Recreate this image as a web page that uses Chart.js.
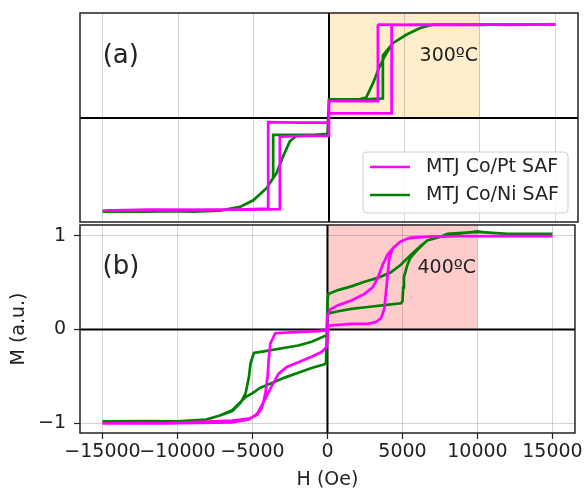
<!DOCTYPE html>
<html>
<head>
<meta charset="utf-8">
<script src="https://cdn.jsdelivr.net/npm/chart.js@4.4.0/dist/chart.umd.min.js"></script>
<style>
  html, body { margin: 0; padding: 0; background: #fff; }
  #wrap { position: relative; width: 585px; height: 490px; }
  #wrap canvas { position: absolute; left: 0; top: 0; }
</style>
</head>
<body>
<div id="wrap">
  <canvas id="chartA" width="585" height="490"></canvas>
  <canvas id="chartB" width="585" height="490"></canvas>
</div>
<script>
// Achsen / Beschriftungen
const hTicks = [-15000, -10000, -5000, 0, 5000, 10000, 15000];
const mTicks = [-1, 0, 1];
const seriesLabels = ['MTJ Co/Pt SAF', 'MTJ Co/Ni SAF'];
const seriesColors = ['#ff00ff', '#008000'];
const panelLabels = ['(a)', '(b)'];
const panelTemps = ['300ºC', '400ºC'];
const shadeColors = ['#ffedcc', '#ffcccc'];
const shadeRange = [0, 10000];

// (a) 300ºC - Schleife: erst absteigender Ast (+H -> -H), dann aufsteigender Ast
const h300Pt = [15000, 12000, 9000, 6000, 3300, 3240, 3240, 1500, 0, 0, -2000, -4030, -4030, -6000, -9000, -12000, -15000,
                -15000, -12000, -8000, -5000, -3260, -3260, -1500, 0, 0, 2000, 4150, 4150, 6000, 9000, 12000, 15000];
const m300Pt = [1.0, 0.995, 1.0, 0.995, 1.0, 0.99, 0.18, 0.18, 0.18, -0.05, -0.05, -0.045, -0.97, -0.98, -0.985, -0.98, -0.99,
                -0.99, -0.985, -0.98, -0.98, -0.975, -0.2, -0.19, -0.19, 0.05, 0.05, 0.05, 0.995, 1.0, 0.995, 1.0, 1.0];
const h300Ni = [15000, 12000, 10000, 7000, 6660, 6000, 5120, 4230, 3790, 3350, 2910, 2470, 2000, 1000, 100, 0, -100, -1000, -2500, -3700, -3700, -4140, -5020, -5900, -7225, -9000, -12000, -15000,
                -15000, -12000, -9000, -7225, -5900, -5020, -4140, -3480, -3040, -2600, -2155, -1000, -100, 0, 1000, 2500, 3570, 3570, 4230, 5120, 6000, 6660, 7000, 10000, 12000, 15000];
const m300Ni = [1.0, 1.0, 0.995, 1.0, 0.99, 0.96, 0.89, 0.80, 0.69, 0.55, 0.37, 0.22, 0.20, 0.20, 0.19, 0.19, -0.17, -0.18, -0.18, -0.18, -0.64, -0.75, -0.88, -0.95, -0.99, -0.99, -1.0, -1.0,
                -1.0, -0.99, -1.0, -0.99, -0.95, -0.88, -0.75, -0.59, -0.41, -0.25, -0.19, -0.18, -0.17, 0.2, 0.2, 0.2, 0.21, 0.67, 0.80, 0.89, 0.96, 0.99, 1.0, 1.0, 1.0, 1.0];

// (b) 400ºC
const h400Pt = [15000, 12000, 9000, 6660, 5550, 4890, 4450, 4010, 3680, 3350, 3020, 2470, 1590, 710, 160, 0, -50, -1000, -2500, -3480, -3810, -3920, -3990, -4140, -4360, -4690, -5240, -6350, -8550, -11000, -15000,
                -15000, -11000, -8550, -6350, -5240, -4690, -4250, -3810, -3260, -2710, -1940, -1060, -400, -70, 0, 50, 1590, 2690, 3240, 3570, 3790, 3900, 4010, 4120, 4340, 4790, 5330, 6660, 9000, 12000, 15000];
const m400Pt = [0.995, 0.995, 0.995, 0.99, 0.98, 0.94, 0.88, 0.80, 0.69, 0.55, 0.45, 0.38, 0.31, 0.26, 0.21, 0.15, -0.01, -0.02, -0.03, -0.04, -0.15, -0.33, -0.50, -0.68, -0.83, -0.91, -0.95, -0.97, -0.985, -1.0, -1.0,
                -1.0, -1.0, -0.995, -0.99, -0.96, -0.90, -0.77, -0.63, -0.47, -0.40, -0.35, -0.29, -0.24, -0.19, -0.1, 0.04, 0.06, 0.06, 0.08, 0.12, 0.22, 0.40, 0.58, 0.76, 0.86, 0.93, 0.97, 0.99, 0.995, 0.995, 0.995];
const h400Ni = [15000, 12000, 10000, 9000, 8000, 7540, 6660, 6210, 5780, 5330, 4890, 4230, 3350, 2470, 1590, 710, 50, 0, -50, -1060, -1940, -3040, -4140, -4910, -5130, -5240, -5460, -5790, -6350, -7225, -8100, -10000, -12000, -15000,
                -15000, -12000, -10000, -8100, -7225, -6350, -5460, -5020, -4470, -3700, -2820, -1940, -1060, -200, -100, 0, 710, 1590, 2690, 3790, 4900, 5000, 5050, 5100, 5330, 5550, 6000, 6660, 7540, 8200, 9080, 9960, 12000, 15000];
const m400Ni = [1.02, 1.02, 1.04, 1.03, 1.02, 0.99, 0.95, 0.89, 0.83, 0.76, 0.69, 0.61, 0.55, 0.51, 0.46, 0.42, 0.38, 0.30, -0.06, -0.13, -0.17, -0.20, -0.23, -0.25, -0.36, -0.51, -0.68, -0.78, -0.87, -0.92, -0.96, -0.98, -0.975, -0.98,
                -0.98, -0.975, -0.98, -0.96, -0.92, -0.86, -0.72, -0.68, -0.62, -0.57, -0.51, -0.46, -0.41, -0.37, -0.36, 0.17, 0.195, 0.22, 0.24, 0.26, 0.28, 0.30, 0.45, 0.56, 0.69, 0.77, 0.85, 0.95, 0.99, 1.005, 1.03, 1.04, 1.02, 1.02];

Chart.defaults.font.family = "'DejaVu Sans', sans-serif";
Chart.defaults.color = '#222';

const toPoints = (hs, ms) => hs.map((h, i) => ({ x: h, y: ms[i] }));
const fmtTick = v => (v < 0 ? '\u2212' + Math.abs(v) : String(v));

// Schattierung, Nulllinien, Rahmen und Texte
const panelDecor = {
    id: 'panelDecor',
    beforeDraw(chart) {
        const { ctx, chartArea: a, scales: { x, y } } = chart;
        const p = chart.options.plugins.panelDecor;
        ctx.save();
        ctx.fillStyle = shadeColors[p.idx];
        const x0 = x.getPixelForValue(shadeRange[0]);
        const x1 = x.getPixelForValue(shadeRange[1]);
        const y0 = y.getPixelForValue(0);
        ctx.fillRect(x0, a.top, x1 - x0, y0 - a.top);
        ctx.restore();
    },
    beforeDatasetsDraw(chart) {
        const { ctx, chartArea: a, scales: { x, y } } = chart;
        ctx.save();
        ctx.strokeStyle = '#000';
        ctx.lineWidth = 2;
        const y0 = y.getPixelForValue(0);
        const x0 = x.getPixelForValue(0);
        ctx.beginPath();
        ctx.moveTo(a.left, y0); ctx.lineTo(a.right, y0);
        ctx.moveTo(x0, a.top); ctx.lineTo(x0, a.bottom);
        ctx.stroke();
        ctx.restore();
    },
    afterDatasetsDraw(chart) {
        const { ctx, chartArea: a, scales: { x, y } } = chart;
        const p = chart.options.plugins.panelDecor;
        ctx.save();
        ctx.fillStyle = '#222';
        ctx.textBaseline = 'middle';
        ctx.textAlign = 'left';
        ctx.font = "26px 'DejaVu Sans'";
        ctx.fillText(panelLabels[p.idx], x.getPixelForValue(-15000), y.getPixelForValue(0.66));
        ctx.font = "19px 'DejaVu Sans'";
        ctx.fillText(panelTemps[p.idx], x.getPixelForValue(6000), y.getPixelForValue(0.66));

        if (p.legend) {
            const bw = 205, bh = 61;
            const bx = a.right - 10 - bw, by = a.bottom - 9 - bh;
            ctx.beginPath();
            ctx.roundRect(bx, by, bw, bh, 4);
            ctx.fillStyle = 'rgba(255,255,255,0.85)';
            ctx.fill();
            ctx.strokeStyle = '#d0d0d0';
            ctx.lineWidth = 1;
            ctx.stroke();
            chart.data.datasets.forEach((ds, i) => {
                const cy = by + 15 + i * 28;
                ctx.strokeStyle = ds.borderColor;
                ctx.lineWidth = 2.6;
                ctx.beginPath();
                ctx.moveTo(bx + 7, cy); ctx.lineTo(bx + 47, cy);
                ctx.stroke();
                ctx.fillStyle = '#222';
                ctx.font = "19px 'DejaVu Sans'";
                ctx.fillText(ds.label, bx + 63, cy);
            });
        }
        ctx.restore();
    },
    afterDraw(chart) {
        const { ctx, chartArea: a } = chart;
        ctx.save();
        ctx.strokeStyle = '#222';
        ctx.lineWidth = 1.5;
        ctx.strokeRect(a.left, a.top, a.right - a.left, a.bottom - a.top);
        ctx.restore();
    }
};

function makePanel(canvasId, idx, hPt, mPt, hNi, mNi, isBottom) {
    return new Chart(document.getElementById(canvasId), {
        type: 'scatter',
        data: {
            datasets: [
                { label: seriesLabels[0], data: toPoints(hPt, mPt), showLine: true, borderColor: seriesColors[0],
                  borderWidth: 2.7, pointRadius: 0, tension: 0 },
                { label: seriesLabels[1], data: toPoints(hNi, mNi), showLine: true, borderColor: seriesColors[1],
                  borderWidth: 2.7, pointRadius: 0, tension: 0 }
            ]
        },
        options: {
            responsive: false,
            animation: false,
            events: [],
            layout: { padding: isBottom ? { top: 225, right: 7, left: 0, bottom: 0 }
                                        : { top: 13, right: 7, left: 0, bottom: 268 } },
            scales: {
                x: {
                    type: 'linear', min: -16500, max: 16500,
                    afterBuildTicks: s => { s.ticks = hTicks.map(v => ({ value: v })); },
                    afterFit: s => { s.height = isBottom ? 57 : 0; },
                    border: { display: false },
                    grid: { color: 'rgba(0,0,0,0.17)', lineWidth: 1, drawTicks: isBottom, tickLength: 6,
                            tickColor: '#222', tickWidth: 1.2 },
                    ticks: { display: isBottom, padding: 2, maxRotation: 0, autoSkip: false,
                             font: { size: 19 }, callback: fmtTick },
                    title: { display: isBottom, text: 'H (Oe)', font: { size: 19, lineHeight: 1 }, padding: 0 }
                },
                y: {
                    type: 'linear',
                    min: isBottom ? -1.103 : -1.112,
                    max: isBottom ? 1.114 : 1.123,
                    afterBuildTicks: s => { s.ticks = mTicks.map(v => ({ value: v })); },
                    afterFit: s => { s.width = 80; },
                    border: { display: false },
                    grid: { display: isBottom, color: 'rgba(0,0,0,0.17)', lineWidth: 1, drawTicks: true, tickLength: 6,
                            tickColor: '#222', tickWidth: 1.2 },
                    ticks: { display: isBottom, padding: 8, font: { size: 19 }, callback: fmtTick },
                    title: { display: isBottom, text: 'M (a.u.)', font: { size: 19, lineHeight: 1 }, padding: { top: 10, bottom: 0 } }
                }
            },
            plugins: {
                legend: { display: false },
                tooltip: { enabled: false },
                panelDecor: { idx: idx, legend: !isBottom }
            }
        },
        plugins: [panelDecor]
    });
}

const chartA = makePanel('chartA', 0, h300Pt, m300Pt, h300Ni, m300Ni, false);
const chartB = makePanel('chartB', 1, h400Pt, m400Pt, h400Ni, m400Ni, true);
</script>
</body>
</html>
